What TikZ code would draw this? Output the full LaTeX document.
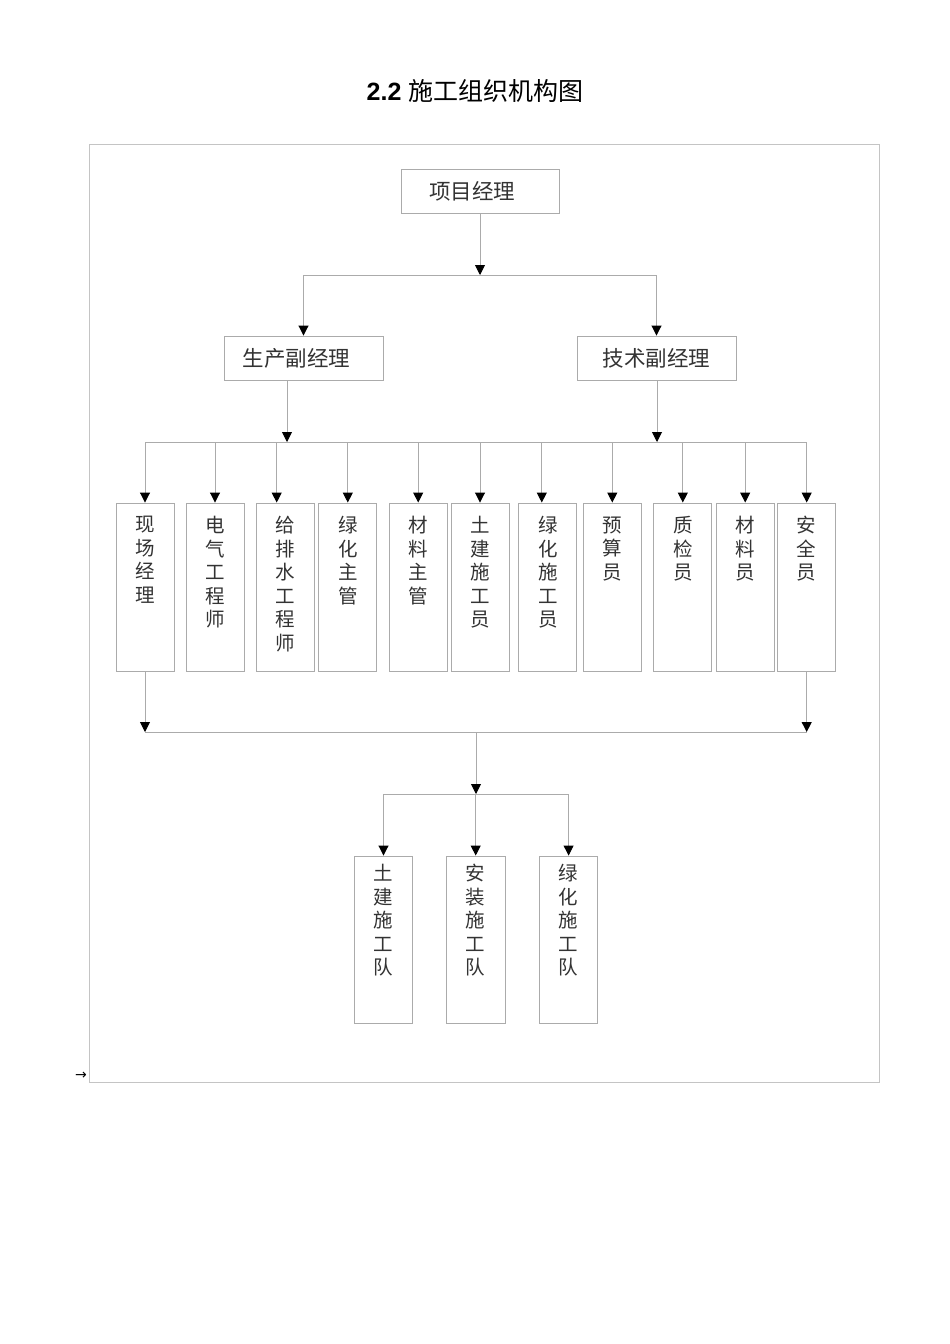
\documentclass[tikz,border=0pt]{standalone}
\usepackage{fontspec}
\setmainfont{Liberation Sans}
\newfontfamily\cjk{Noto Sans CJK SC}
\newfontfamily\symfont{DejaVu Sans}
\usetikzlibrary{arrows.meta}
\definecolor{linegray}{HTML}{ABABAB}
\definecolor{framegray}{HTML}{C4C4C4}
\definecolor{txtgray}{HTML}{333333}
\newcommand\vlab[2]{\parbox[t][#1][t]{26pt}{\centering\cjk\fontsize{19.5pt}{23.5pt}\selectfont #2}}
\tikzset{
  conn/.style={draw=linegray, line width=0.9pt},
  arr/.style={conn, -{Triangle[length=10pt,width=10pt,color=black,fill=black]}},
  hbox/.style={draw=linegray, line width=0.9pt, rectangle, inner sep=0pt,
    minimum height=44pt, text=txtgray, font=\cjk\fontsize{21.5pt}{24pt}\selectfont},
  vboxu/.style={draw=linegray, line width=0.9pt, rectangle, inner sep=0pt,
    minimum width=58pt, minimum height=168pt, text=txtgray},
  vboxl/.style={draw=linegray, line width=0.9pt, rectangle, inner sep=0pt,
    minimum width=58.5pt, minimum height=167pt, text=txtgray},
}
\begin{document}
\begin{tikzpicture}[x=1pt,y=-1pt]
\useasboundingbox (0,0) rectangle (950,1344);
% title
\node[inner sep=0pt] (title) at (475,91)
  {\fontsize{25pt}{27pt}\selectfont\textbf{2.2} {\cjk 施工组织机构图}};
% frame
\draw[framegray, line width=0.9pt] (89,144) rectangle (879,1082);
\node[inner sep=0pt, font=\symfont\fontsize{14pt}{14pt}\selectfont] (mark) at (81,1076) {→};
% top level
\node[hbox, minimum width=158pt] (pm) at (480,191) {项目经理\kern16pt};
\node[hbox, minimum width=159pt] (sa) at (303.5,358) {生产副经理\kern14pt};
\node[hbox, minimum width=159pt] (tb) at (656.5,358) {技术副经理};
\coordinate (j1) at (480,275);
\coordinate (j2) at (287,442);
\coordinate (j3) at (657,442);
\coordinate (j4) at (476,732);
\coordinate (j5) at (476,794);
\draw[arr] (pm.south) -- (j1);
\draw[conn] (sa.north |- j1) -- (tb.north |- j1);
\draw[arr] (sa.north |- j1) -- (sa.north);
\draw[arr] (tb.north |- j1) -- (tb.north);
\draw[arr] (sa.south -| j2) -- (j2);
\draw[arr] (tb.south -| j3) -- (j3);
% middle row
\node[vboxu] (b1) at (145,587) {\vlab{141pt}{现\\场\\经\\理}};
\node[vboxu] (b2) at (215,587) {\vlab{141pt}{电\\气\\工\\程\\师}};
\node[vboxu] (b3) at (285.7,587) {\vlab{141pt}{给\\排\\水\\工\\程\\师}};
\node[vboxu] (b4) at (347.8,587) {\vlab{141pt}{绿\\化\\主\\管}};
\node[vboxu] (b5) at (418.2,587) {\vlab{141pt}{材\\料\\主\\管}};
\node[vboxu] (b6) at (480,587) {\vlab{141pt}{土\\建\\施\\工\\员}};
\node[vboxu] (b7) at (547.8,587) {\vlab{141pt}{绿\\化\\施\\工\\员}};
\node[vboxu] (b8) at (612.3,587) {\vlab{141pt}{预\\算\\员}};
\node[vboxu] (b9) at (682.8,587) {\vlab{141pt}{质\\检\\员}};
\node[vboxu] (b10) at (745.2,587) {\vlab{141pt}{材\\料\\员}};
\node[vboxu] (b11) at (806.7,587) {\vlab{141pt}{安\\全\\员}};
\coordinate (t3) at ([xshift=-9pt]b3.north);
\coordinate (t7) at ([xshift=-6pt]b7.north);
\draw[conn] (b1.north |- j2) -- (b11.north |- j2);
\foreach \b in {b1,b2,b4,b5,b6,b8,b9,b10,b11}
  \draw[arr] (\b.north |- j2) -- (\b.north);
\draw[arr] (t3 |- j2) -- (t3);
\draw[arr] (t7 |- j2) -- (t7);
% merge
\draw[arr] (b1.south) -- (b1.south |- j4);
\draw[arr] (b11.south) -- (b11.south |- j4);
\draw[conn] (b1.south |- j4) -- (b11.south |- j4);
\draw[arr] (j4) -- (j5);
% bottom row
\node[vboxl] (c1) at (383.5,939.5) {\vlab{150pt}{土\\建\\施\\工\\队}};
\node[vboxl] (c2) at (475.7,939.5) {\vlab{150pt}{安\\装\\施\\工\\队}};
\node[vboxl] (c3) at (568.6,939.5) {\vlab{150pt}{绿\\化\\施\\工\\队}};
\draw[conn] (c1.north |- j5) -- (c3.north |- j5);
\foreach \c in {c1,c2,c3}
  \draw[arr] (\c.north |- j5) -- (\c.north);
\end{tikzpicture}
\end{document}
